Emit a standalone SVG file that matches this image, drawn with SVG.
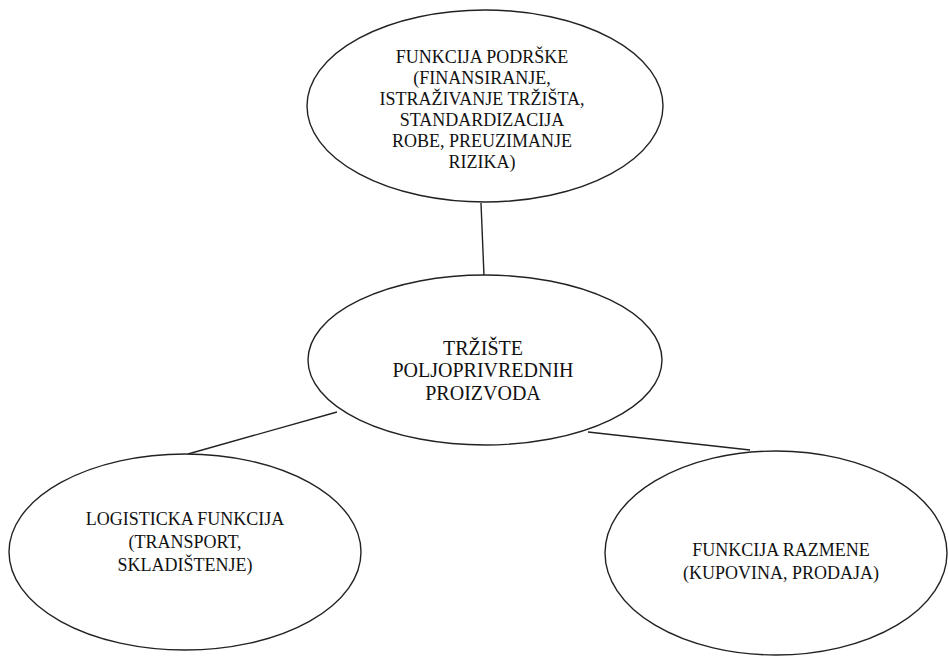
<svg xmlns="http://www.w3.org/2000/svg" width="948" height="656" viewBox="0 0 948 656">
<style>
.node ellipse{fill:#fff;stroke:#222;stroke-width:1.4}
.conn line{stroke:#222;stroke-width:1.4}
text{font-family:"Liberation Serif","Times New Roman",serif;fill:#111;text-anchor:middle}
.t18{font-size:18px}
.t20{font-size:20px}
</style>
<rect width="948" height="656" fill="#fff"/>
<g id="connectors" class="conn">
<line x1="481" y1="203" x2="484" y2="276"/>
<line x1="337" y1="412" x2="188" y2="454"/>
<line x1="588" y1="432" x2="750" y2="450"/>
</g>
<g id="node-podrska" class="node">
<ellipse cx="485" cy="106" rx="178" ry="96"/>
<text class="t18" x="482" y="63">FUNKCIJA PODRŠKE</text>
<text class="t18" x="482" y="84">(FINANSIRANJE,</text>
<text class="t18" x="482" y="105">ISTRAŽIVANJE TRŽIŠTA,</text>
<text class="t18" x="482" y="126">STANDARDIZACIJA</text>
<text class="t18" x="482" y="147">ROBE, PREUZIMANJE</text>
<text class="t18" x="482" y="168">RIZIKA)</text>
</g>
<g id="node-trziste" class="node">
<ellipse cx="485" cy="360" rx="177" ry="85"/>
<text class="t20" x="483" y="355">TRŽIŠTE</text>
<text class="t20" x="483" y="377">POLJOPRIVREDNIH</text>
<text class="t20" x="483" y="400">PROIZVODA</text>
</g>
<g id="node-logisticka" class="node">
<ellipse cx="185" cy="552" rx="176" ry="98"/>
<text class="t18" x="185" y="525">LOGISTICKA FUNKCIJA</text>
<text class="t18" x="185" y="548">(TRANSPORT,</text>
<text class="t18" x="185" y="571">SKLADIŠTENJE)</text>
</g>
<g id="node-razmena" class="node">
<ellipse cx="776" cy="553" rx="171" ry="102"/>
<text class="t18" x="781" y="556">FUNKCIJA RAZMENE</text>
<text class="t18" x="781" y="579">(KUPOVINA, PRODAJA)</text>
</g>
</svg>
